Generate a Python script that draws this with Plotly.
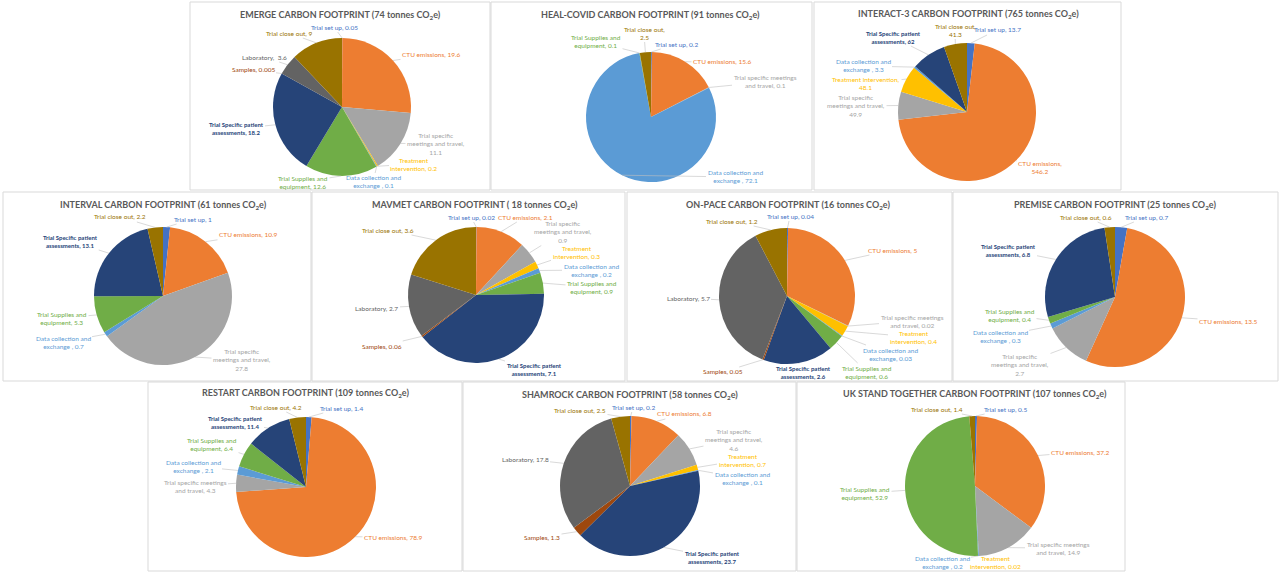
import plotly.graph_objects as go
import numpy as np

W, H = 1280, 574

# %% data (tonnes CO2e per trial, slice order = categories)
categories = [
    "Trial set up", "CTU emissions", "Trial specific meetings and travel",
    "Treatment intervention", "Data collection and exchange",
    "Trial Supplies and equipment", "Trial Specific patient assessments",
    "Samples", "Laboratory", "Trial close out",
]
colors = ["#4472C4", "#ED7D31", "#A5A5A5", "#FFC000", "#5B9BD5",
          "#70AD47", "#264478", "#9E480E", "#636363", "#997300"]

emerge     = [0.05, 19.6, 11.1, 0.2, 0.1, 12.6, 18.2, 0.005, 3.6, 9]
heal_covid = [0.2, 15.6, 0.1, None, 72.1, 0.1, None, None, None, 2.5]
interact3  = [13.7, 546.2, 49.9, 48.1, 3.3, None, 62, None, None, 41.3]
interval   = [1, 10.9, 27.8, None, 0.7, 5.3, 13.1, None, None, 2.2]
mavmet     = [0.02, 2.1, 0.9, 0.3, 0.2, 0.9, 7.1, 0.06, 2.7, 3.6]
on_pace    = [0.04, 5, 0.02, 0.4, 0.03, 0.6, 2.6, 0.05, 5.7, 1.2]
premise    = [0.7, 13.5, 2.7, None, 0.3, 0.4, 6.8, None, None, 0.6]
restart    = [1.4, 78.9, 4.3, None, 2.1, 6.4, 11.4, None, None, 4.2]
shamrock   = [0.2, 6.8, 4.6, 0.7, 0.1, None, 23.7, 1.3, 17.8, 2.5]
uk_stand   = [0.5, 37.2, 14.9, 0.02, 0.2, 52.9, None, None, None, 1.4]

titles = [
    "EMERGE CARBON FOOTPRINT (74 tonnes CO<sub>2</sub>e)",
    "HEAL-COVID CARBON FOOTPRINT (91 tonnes CO<sub>2</sub>e)",
    "INTERACT-3 CARBON FOOTPRINT (765 tonnes CO<sub>2</sub>e)",
    "INTERVAL CARBON FOOTPRINT (61 tonnes CO<sub>2</sub>e)",
    "MAVMET CARBON FOOTPRINT ( 18 tonnes CO<sub>2</sub>e)",
    "ON-PACE CARBON FOOTPRINT (16 tonnes CO<sub>2</sub>e)",
    "PREMISE CARBON FOOTPRINT (25 tonnes CO<sub>2</sub>e)",
    "RESTART CARBON FOOTPRINT (109 tonnes CO<sub>2</sub>e)",
    "SHAMROCK CARBON FOOTPRINT (58 tonnes CO<sub>2</sub>e)",
    "UK STAND TOGETHER CARBON FOOTPRINT (107 tonnes CO<sub>2</sub>e)",
]

# %% layout: panel box, pie centre/radius, title position, label positions (pixels)
panels = [
    dict(values=emerge, box=(190, 2, 490, 190), pie=(342, 107, 69), title_xy=(340, 15),
         labels={0: (334, 27, "Trial set up, {v}"),
                 1: (431, 55, "CTU emissions, {v}"),
                 2: (436, 144, "Trial specific<br>meetings and travel,<br>{v}"),
                 3: (414, 164, "Treatment<br>intervention, {v}"),
                 4: (373, 182, "Data collection and<br>exchange , {v}"),
                 5: (303, 182, "Trial Supplies and<br>equipment, {v}"),
                 6: (236, 129, "Trial Specific patient<br>assessments, {v}"),
                 7: (253, 70, "Samples, {v}"),
                 8: (264, 57, "Laboratory,  {v}"),
                 9: (289, 33, "Trial close out, {v}")}),
    dict(values=heal_covid, box=(491, 2, 812, 190), pie=(651, 117, 65), title_xy=(650, 15),
         labels={0: (676, 44, "Trial set up, {v}"),
                 1: (722, 62, "CTU emissions, {v}"),
                 2: (765, 82, "Trial specific meetings<br>and travel, {v}"),
                 4: (735, 177, "Data collection and<br>exchange , {v}"),
                 5: (596, 42, "Trial Supplies and<br>equipment, {v}"),
                 9: (644, 33, "Trial close out,<br>{v}")}),
    dict(values=interact3, box=(814, 2, 1121, 190), pie=(967, 112, 69), title_xy=(968, 14),
         labels={0: (997, 30, "Trial set up, {v}"),
                 1: (1040, 167, "CTU emissions,<br>{v}"),
                 2: (856, 106, "Trial specific<br>meetings and travel,<br>{v}"),
                 3: (866, 83, "Treatment intervention,<br>{v}"),
                 4: (863, 66, "Data collection and<br>exchange , {v}"),
                 6: (893, 37, "Trial Specific patient<br>assessments, {v}"),
                 9: (955, 30, "Trial close out,<br>{v}")}),
    dict(values=interval, box=(3, 192, 311, 381), pie=(163, 296, 69), title_xy=(163, 205),
         labels={0: (193, 219, "Trial set up, {v}"),
                 1: (248, 235, "CTU emissions, {v}"),
                 2: (242, 360, "Trial specific<br>meetings and travel,<br>{v}"),
                 4: (63, 342, "Data collection and<br>exchange , {v}"),
                 5: (62, 318, "Trial Supplies and<br>equipment, {v}"),
                 6: (70, 241, "Trial Specific patient<br>assessments, {v}"),
                 9: (120, 217, "Trial close out, {v}")}),
    dict(values=mavmet, box=(312, 192, 625, 381), pie=(476, 295, 68), title_xy=(475, 205),
         labels={0: (471, 217, "Trial set up, {v}"),
                 1: (525, 217, "CTU emissions, {v}"),
                 2: (563, 232, "Trial specific<br>meetings and travel,<br>{v}"),
                 3: (576, 252, "Treatment<br>intervention, {v}"),
                 4: (591, 270, "Data collection and<br>exchange , {v}"),
                 5: (592, 287, "Trial Supplies and<br>equipment, {v}"),
                 6: (534, 370, "Trial Specific patient<br>assessments, {v}"),
                 7: (382, 346, "Samples, {v}"),
                 8: (377, 308, "Laboratory, {v}"),
                 9: (388, 230, "Trial close out, {v}")}),
    dict(values=on_pace, box=(627, 192, 952, 381), pie=(787, 296, 68), title_xy=(788, 205),
         labels={0: (790, 216, "Trial set up, {v}"),
                 1: (892, 250, "CTU emissions, {v}"),
                 2: (912, 321, "Trial specific meetings<br>and travel, {v}"),
                 3: (913, 337, "Treatment<br>intervention, {v}"),
                 4: (890, 354, "Data collection and<br>exchange, {v}"),
                 5: (867, 372, "Trial Supplies and<br>equipment, {v}"),
                 6: (803, 373, "Trial Specific patient<br>assessments, {v}"),
                 7: (723, 372, "Samples, {v}"),
                 8: (688, 298, "Laboratory, {v}"),
                 9: (732, 221, "Trial close out, {v}")}),
    dict(values=premise, box=(953, 192, 1278, 381), pie=(1115, 297, 70), title_xy=(1115, 205),
         labels={0: (1146, 217, "Trial set up, {v}"),
                 1: (1228, 321, "CTU emissions, {v}"),
                 2: (1020, 365, "Trial specific<br>meetings and travel,<br>{v}"),
                 4: (1000, 336, "Data collection and<br>exchange , {v}"),
                 5: (1010, 315, "Trial Supplies and<br>equipment, {v}"),
                 6: (1008, 250, "Trial Specific patient<br>assessments, {v}"),
                 9: (1086, 217, "Trial close out, {v}")}),
    dict(values=restart, box=(148, 382, 462, 571), pie=(306, 487, 70), title_xy=(305, 393),
         labels={0: (341, 408, "Trial set up, {v}"),
                 1: (393, 537, "CTU emissions, {v}"),
                 2: (195, 486, "Trial specific meetings<br>and travel, {v}"),
                 4: (193, 466, "Data collection and<br>exchange , {v}"),
                 5: (212, 444, "Trial Supplies and<br>equipment, {v}"),
                 6: (235, 422, "Trial Specific patient<br>assessments, {v}"),
                 9: (276, 407, "Trial close out, {v}")}),
    dict(values=shamrock, box=(463, 382, 796, 571), pie=(630, 486, 70), title_xy=(630, 395),
         labels={0: (633, 407, "Trial set up, {v}"),
                 1: (684, 414, "CTU emissions, {v}"),
                 2: (734, 440, "Trial specific<br>meetings and travel,<br>{v}"),
                 3: (742, 460, "Treatment<br>intervention, {v}"),
                 4: (742, 478, "Data collection and<br>exchange , {v}"),
                 6: (712, 557, "Trial Specific patient<br>assessments, {v}"),
                 7: (542, 537, "Samples, {v}"),
                 8: (525, 459, "Laboratory, {v}"),
                 9: (580, 410, "Trial close out, {v}")}),
    dict(values=uk_stand, box=(797, 382, 1125, 571), pie=(975, 486, 70), title_xy=(975, 394),
         labels={0: (1006, 409, "Trial set up, {v}"),
                 1: (1080, 452, "CTU emissions, {v}"),
                 2: (1058, 548, "Trial specific meetings<br>and travel, {v}"),
                 3: (995, 562, "Treatment<br>intervention, {v}"),
                 4: (942, 562, "Data collection and<br>exchange , {v}"),
                 5: (865, 493, "Trial Supplies and<br>equipment, {v}"),
                 9: (937, 409, "Trial close out, {v}")}),
]

fig = go.Figure()

for p, title in zip(panels, titles):
    vals = p["values"]
    idx = [i for i, v in enumerate(vals) if v is not None]
    v = np.array([vals[i] for i in idx], dtype=float)
    cx, cy, r = p["pie"]

    fig.add_trace(go.Pie(
        labels=[categories[i] for i in idx],
        values=v,
        marker=dict(colors=[colors[i] for i in idx]),
        sort=False,
        direction="clockwise",
        rotation=0,
        textinfo="none",
        hovertemplate="%{label}: %{value}<extra></extra>",
        domain=dict(x=[(cx - r) / W, (cx + r) / W], y=[1 - (cy + r) / H, 1 - (cy - r) / H]),
        showlegend=False,
    ))

    # panel frame
    x0, y0, x1, y1 = p["box"]
    fig.add_shape(type="rect", xref="paper", yref="paper",
                  x0=x0 / W, x1=x1 / W, y0=1 - y1 / H, y1=1 - y0 / H,
                  line=dict(color="#D9D9D9", width=1), layer="below")

    tx, ty = p["title_xy"]
    fig.add_annotation(x=tx / W, y=1 - ty / H, xref="paper", yref="paper",
                       xanchor="center", yanchor="middle",
                       text="<b>" + title + "</b>", showarrow=False,
                       font=dict(family="Lato", size=9, color="#595959"))

    # data labels with leader lines to the slice edge
    mid = (np.cumsum(v) - v / 2) / v.sum() * 2 * np.pi
    for k, i in enumerate(idx):
        ex = cx + r * np.sin(mid[k])
        ey = cy - r * np.cos(mid[k])
        lx, ly, tmpl = p["labels"][i]
        txt = tmpl.format(v=f"{vals[i]:g}")
        size = 6.5
        if i == 6:
            txt = "<b>" + txt + "</b>"
            size = 6
        fig.add_annotation(
            x=ex / W, y=1 - ey / H, xref="paper", yref="paper",
            ax=lx - ex, ay=ly - ey,
            text=txt, align="center",
            showarrow=True, arrowhead=0, arrowwidth=0.6, arrowcolor="#BFBFBF",
            font=dict(family="Lato", size=size, color=colors[i]),
        )

fig.update_layout(
    width=W, height=H,
    margin=dict(l=0, r=0, t=0, b=0),
    paper_bgcolor="white",
    plot_bgcolor="white",
)

fig.write_html("out.html", config={"displayModeBar": False},
               post_script="document.body.style.margin='0';")
